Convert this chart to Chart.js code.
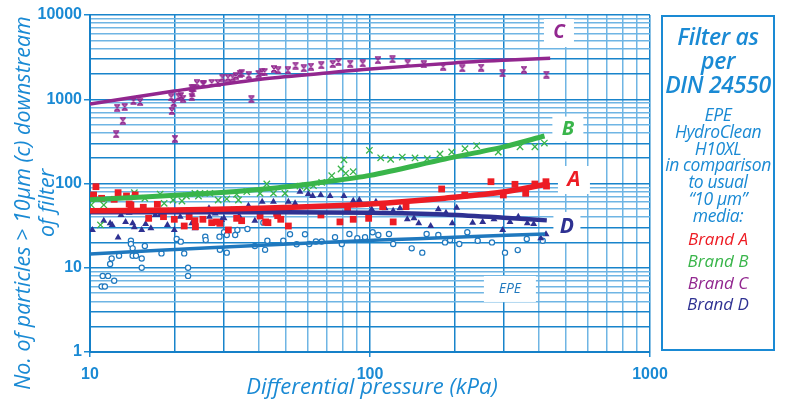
<!DOCTYPE html>
<html>
<head>
<meta charset="utf-8">
<script src="https://cdn.jsdelivr.net/npm/chart.js@4.4.0/dist/chart.umd.min.js"></script>
<style>
    html, body { margin: 0; padding: 0; background: #fff; }
    #wrap { position: relative; width: 789px; height: 405px; }
    #chart { position: absolute; left: 0; top: 0; }
    #panel {
        position: absolute; left: 661px; top: 15px; width: 110px; height: 332px;
        border: 2px solid #1a8ad4; color: #1a8ad4; text-align: center;
        font-family: 'Open Sans', 'Noto Sans', sans-serif; font-style: italic;
    }
    #panel div { position: absolute; left: 0; width: 110px; white-space: nowrap; }
    .head { top: 7px; font-size: 23px; line-height: 24px; font-weight: 600; letter-spacing: -0.3px; }
    .sub { top: 89px; font-size: 17.5px; line-height: 16.8px; letter-spacing: -0.4px; }
    .brands { top: 211px; font-size: 17px; line-height: 21.8px; }
</style>
</head>
<body>
<div id="wrap">
    <canvas id="chart" width="789" height="405"></canvas>
    <div id="panel">
        <div class="head">Filter as<br>per<br>DIN 24550</div>
        <div class="sub">EPE<br>HydroClean<br>H10XL<br>in comparison<br>to usual<br>“10 µm”<br>media:</div>
        <div class="brands">
            <span style="color:#ed1c24">Brand A</span><br>
            <span style="color:#39b54a">Brand B</span><br>
            <span style="color:#92278f">Brand C</span><br>
            <span style="color:#2e3192">Brand D</span>
        </div>
    </div>
</div>
<script>
// axis tick labels
const xTickLabels = [10, 100, 1000];
const yTickLabels = [1, 10, 100, 1000, 10000];

// Brand A - measured points (red squares)
const brandAPressure = [10.0, 10.3, 10.5, 11.0, 12.2, 12.6, 13.5, 13.8, 14.0, 14.5, 15.5, 16.2, 17.4, 18.3, 20.0, 21.7, 22.6, 23.7, 23.8, 25.3, 27.2, 28.3, 29.1, 31.2, 33.4, 34.8, 40.5, 42.4, 43.2, 46.4, 46.8, 48.0, 51.1, 66.8, 78.1, 83.2, 87.1, 98.9, 111, 121, 134.5, 180.3, 218, 270.4, 299.3, 329.4, 359.7, 388, 425, 427];
const brandACount = [66.7, 73.1, 91.7, 66.7, 64.9, 77.8, 71.1, 57.1, 55.6, 73.1, 52.2, 38.6, 56.6, 40.4, 37.6, 31.3, 40.4, 36.2, 30.7, 37.6, 34.3, 35, 33.7, 28.1, 38.6, 36.2, 41.1, 35, 34.3, 44.3, 41.5, 37.6, 31.3, 42.3, 35, 50.8, 37.6, 38.6, 53.1, 35, 53.1, 86.1, 73, 105, 73.1, 97.8, 76.5, 98.6, 105, 93.3];
const brandAFitPressure = [10, 20, 40, 70, 100, 185, 290, 428];
const brandAFit = [47.5, 48.5, 51, 54, 57, 67, 78, 98];

// Brand B - measured points (green crosses)
const brandBPressure = [10.1, 11.2, 10.9, 14.4, 15.7, 17.8, 18.4, 19.8, 21.3, 22.1, 23.7, 24.4, 24.7, 26.8, 28.7, 30.8, 33.4, 33.9, 36.3, 40.5, 42.8, 45.2, 49.7, 56.2, 59.4, 62.8, 67.2, 73, 78.8, 80.7, 81.9, 87.1, 99.5, 109.2, 118.5, 130.4, 144.8, 160.2, 177.8, 195.8, 218.4, 240.4, 287, 343.4, 388, 419.5];
const brandBCount = [55.6, 55.6, 32.2, 77.8, 66.7, 75, 58.2, 63.7, 62, 71, 76.4, 71, 76.4, 76.4, 63.7, 65.5, 74.5, 63.7, 80, 76.4, 98.6, 76.4, 76.4, 93.3, 89, 94.2, 103, 123.7, 148.6, 191, 132, 138, 248, 202, 194, 206, 201, 197, 224, 236.6, 259, 281, 236.6, 273, 273, 302];
const brandBFitPressure = [10, 26, 45, 70, 100, 185, 300, 420];
const brandBFit = [64, 76, 88, 105, 125, 195, 272, 366];

// Brand C - measured points (purple)
const brandCPressure = [12.4, 12.5, 13.1, 13.3, 14.3, 15.1, 19.5, 19.6, 19.9, 20.1, 20.7, 21.1, 21.5, 23.1, 23.1, 23.2, 23.4, 24.1, 25.3, 25.5, 27.2, 28.6, 29.7, 31.1, 32.3, 33.2, 34.3, 34.8, 36.9, 37.7, 40.0, 41.1, 42.0, 45.4, 47.0, 50.9, 54.2, 58.0, 61.5, 67.0, 73.6, 77.1, 85.0, 94.2, 106.7, 120.3, 136.3, 155.6, 182.5, 213.6, 249.4, 297.4, 354.8, 426.6];
const brandCCount = [384, 794, 556, 809, 953, 928, 1055, 726, 903, 340, 1072, 1094, 1016, 1349, 1072, 1178, 1349, 1545, 1503, 1503, 1560, 1560, 1803, 1803, 1803, 1888, 2013, 2030, 1925, 1000, 1995, 2106, 2106, 2287, 2203, 2203, 2506, 2330, 2438, 2529, 2620, 2770, 2642, 2670, 2900, 2979, 2670, 2600, 2438, 2330, 2371, 2032, 2244, 1959];
const brandCFitPressure = [10, 20, 40, 70, 100, 200, 300, 440];
const brandCFit = [880, 1250, 1720, 2050, 2280, 2700, 2900, 3060];

// Brand D - measured points (dark blue triangles)
const brandDPressure = [10.2, 11.2, 11.8, 12.0, 12.6, 12.9, 13.4, 13.8, 14.2, 14.4, 15.3, 15.8, 16.5, 17.1, 17.8, 18.9, 19.0, 20.0, 21.0, 23.1, 23.7, 25.0, 26.6, 26.7, 28.0, 29.5, 30.1, 32.0, 34.1, 36.8, 38.8, 41.2, 45.2, 51.1, 54, 56.2, 60.2, 62.4, 66.7, 72, 80.7, 87.1, 91.6, 101.4, 105, 113.2, 121, 128, 135.9, 143.6, 149.3, 164.7, 175.4, 186.8, 196.7, 204, 232.6, 252.6, 277.2, 297.8, 316.2, 338.5, 364.6, 384.3, 407.3, 425.2];
const brandDCount = [28.1, 36.2, 33.7, 32.2, 22.8, 42.3, 35, 45, 33.7, 30.2, 28.1, 33, 29.4, 42.3, 42.3, 32.2, 47, 28.1, 40.4, 33.7, 29.4, 46, 50.8, 40.4, 44, 36.9, 38.6, 48, 41.1, 54.6, 36.2, 60.8, 60.8, 60.8, 58.2, 80, 75, 71.1, 73.1, 71.1, 71.1, 62.5, 63.7, 49.4, 60.8, 50.8, 47.5, 50.8, 37.6, 38.6, 33.7, 31.3, 49.4, 45, 33.7, 51.6, 34.3, 35, 37.6, 28.1, 35, 40.4, 33.7, 33, 22.4, 25];
const brandDFitPressure = [10, 50, 100, 185, 300, 428];
const brandDFit = [45.5, 45.5, 45, 43, 39.3, 36.5];

// EPE HydroClean H10XL - measured points (open circles)
const epePressure = [11.1, 11.6, 11.0, 11.3, 12.2, 11.8, 11.95, 12.7, 14.0, 14.0, 14.2, 14.2, 14.6, 15.3, 15.3, 15.7, 18.0, 20.4, 21.1, 21.7, 22.4, 22.4, 25.8, 25.9, 29.0, 29.1, 30.1, 30.8, 30.8, 33.0, 33.6, 36.5, 38.8, 41.6, 42.2, 43, 49, 51.8, 54.7, 58.6, 60.7, 64.1, 67.2, 75, 79.3, 84.4, 90.1, 96, 102.2, 107.1, 116.9, 121, 140.9, 153.7, 159.3, 175.4, 185.3, 193.1, 208.4, 222.6, 242.5, 272.7, 303.5, 337, 363, 413.8];
const epeCount = [8.0, 8.0, 6.0, 6.0, 7.0, 11.1, 12.9, 13.9, 20.9, 19.1, 17.0, 13.9, 13.9, 12.9, 10.0, 18.1, 14.8, 21.9, 20.4, 14.8, 10.0, 8.0, 23.4, 21.3, 23.4, 16.3, 26.4, 24.5, 15.1, 24.5, 28.1, 28.8, 18.1, 34.3, 16.3, 20.9, 20.9, 25, 19.0, 25, 19.1, 20.5, 20.5, 23, 19.1, 25.2, 22.4, 23, 26.4, 24.5, 25.2, 19.1, 17.0, 15.1, 25.2, 24.5, 20.0, 21.3, 19.1, 26.4, 20.9, 20.0, 15.1, 16.2, 21.9, 20.9];
const epeFitPressure = [10, 31.6, 108, 200, 422];
const epeFit = [14.6, 17.8, 21.3, 23, 25.2];

// curve labels (text and anchor in data units)
const curveLabelText = ['C', 'B', 'A', 'D', 'EPE'];
const curveLabelPressure = [473, 509, 535, 505, 316];
const curveLabelCount = [6110, 443, 110, 30.5, 5.6];

const BLUE = '#1a8ad4';
const colors = { A: '#ed1c24', B: '#39b54a', C: '#92278f', D: '#2e3192', EPE: '#1f78be' };

function toPoints(xs, ys) {
    return xs.map((x, i) => ({ x: x, y: ys[i] }));
}

// log grid values 1..9 x 10^n
function logGrid(min, max) {
    const out = [];
    for (let e = Math.log10(min); e < Math.log10(max); e++) {
        for (let s = 1; s < 10; s++) out.push({ value: s * Math.pow(10, e) });
    }
    out.push({ value: max });
    return out;
}

function gridColor(ctx) {
    if (!ctx.tick) return BLUE;
    const v = ctx.tick.value;
    const s = Math.round(v / Math.pow(10, Math.floor(Math.log10(v) + 1e-9)));
    return (s === 1 || s === 2 || s === 3) ? '#1984cb' : '#6fb5e4';
}

// Brand C marker: an X with bars on top and bottom
function makeCMarker(color) {
    const c = document.createElement('canvas');
    c.width = 8; c.height = 8;
    const g = c.getContext('2d');
    g.strokeStyle = color;
    g.lineWidth = 1.4;
    g.beginPath();
    g.moveTo(1, 1); g.lineTo(7, 1);
    g.moveTo(1, 7); g.lineTo(7, 7);
    g.moveTo(2, 1.5); g.lineTo(6, 6.5);
    g.moveTo(6, 1.5); g.lineTo(2, 6.5);
    g.stroke();
    return c;
}

const fitLine = (data, color, width) => ({
    type: 'line', data: data, borderColor: color, borderWidth: width,
    pointRadius: 0, tension: 0.3, fill: false
});

const curveLabels = {
    id: 'curveLabels',
    beforeDatasetsDraw(chart) {
        const { ctx, scales: { x, y } } = chart;
        const style = {
            C: { w: 30, h: 28, font: 'italic bold 19px "Open Sans"', color: colors.C },
            B: { w: 31, h: 25, font: 'italic bold 20px "Open Sans"', color: colors.B },
            A: { w: 32, h: 28, font: 'italic bold 21px "Open Sans"', color: colors.A },
            D: { w: 27, h: 30, font: 'italic bold 21px "Open Sans"', color: colors.D },
            EPE: { w: 52, h: 26, font: 'italic 14px "Open Sans"', color: colors.EPE }
        };
        ctx.save();
        curveLabelText.forEach((t, i) => {
            const s = style[t];
            const px = x.getPixelForValue(curveLabelPressure[i]);
            const py = y.getPixelForValue(curveLabelCount[i]);
            ctx.fillStyle = '#fff';
            ctx.fillRect(px - s.w / 2, py - s.h / 2, s.w, s.h);
            ctx.font = s.font;
            ctx.fillStyle = s.color;
            ctx.textAlign = 'center';
            ctx.textBaseline = 'middle';
            ctx.fillText(t, px, py);
        });
        ctx.restore();
    }
};

const axisTitles = {
    id: 'axisTitles',
    afterDraw(chart) {
        const ctx = chart.ctx;
        ctx.save();
        ctx.fillStyle = BLUE;
        ctx.font = 'italic 22px "Open Sans"';
        ctx.textAlign = 'center';
        ctx.textBaseline = 'middle';
        ctx.fillText('Differential pressure (kPa)', 372, 388);
        ctx.font = 'italic 21.5px "Open Sans"';
        ctx.translate(0, 203);
        ctx.rotate(-Math.PI / 2);
        ctx.fillText('No. of particles > 10µm (c) downstream', 0, 24);
        ctx.fillText('of filter', 0, 48);
        ctx.restore();
    }
};

document.addEventListener('DOMContentLoaded', function() {
    const ctx = document.getElementById('chart').getContext('2d');
    const tickFont = { family: "'Liberation Sans Narrow', 'Liberation Sans', Arial, sans-serif", size: 16, weight: 'bold' };

    new Chart(ctx, {
        type: 'scatter',
        data: {
            datasets: [
                fitLine(toPoints(brandAFitPressure, brandAFit), colors.A, 5.5),
                fitLine(toPoints(brandDFitPressure, brandDFit), colors.D, 4.5),
                fitLine(toPoints(brandBFitPressure, brandBFit), colors.B, 5),
                fitLine(toPoints(epeFitPressure, epeFit), colors.EPE, 3.5),
                fitLine(toPoints(brandCFitPressure, brandCFit), colors.C, 3.5),
                {
                    label: 'Brand A', data: toPoints(brandAPressure, brandACount),
                    pointStyle: 'rect', pointRadius: 4.8, backgroundColor: colors.A, borderColor: colors.A, borderWidth: 0
                },
                {
                    label: 'Brand B', data: toPoints(brandBPressure, brandBCount),
                    pointStyle: 'crossRot', pointRadius: 4.5, borderColor: colors.B, borderWidth: 1.3
                },
                {
                    label: 'Brand C', data: toPoints(brandCPressure, brandCCount),
                    pointStyle: makeCMarker(colors.C), pointRadius: 4
                },
                {
                    label: 'Brand D', data: toPoints(brandDPressure, brandDCount),
                    pointStyle: 'triangle', pointRadius: 4, backgroundColor: colors.D, borderColor: colors.D, borderWidth: 0
                },
                {
                    label: 'EPE', data: toPoints(epePressure, epeCount),
                    pointStyle: 'circle', pointRadius: 2.6, backgroundColor: '#fff', borderColor: colors.EPE, borderWidth: 1.2
                }
            ]
        },
        options: {
            responsive: false,
            animation: false,
            layout: { padding: { left: 0, right: 139, top: 15, bottom: 0 } },
            plugins: {
                legend: { display: false },
                tooltip: { enabled: false }
            },
            scales: {
                x: {
                    type: 'logarithmic', min: 10, max: 1000,
                    afterBuildTicks: s => { s.ticks = logGrid(10, 1000); },
                    afterFit: s => { s.height = 53; },
                    grid: {
                        color: gridColor, lineWidth: 1.5, tickLength: 5,
                        tickColor: c => (c.tick && xTickLabels.includes(c.tick.value)) ? BLUE : 'rgba(0,0,0,0)'
                    },
                    border: { color: '#1580c8', width: 2 },
                    ticks: {
                        autoSkip: false, maxRotation: 0, padding: 8, color: BLUE, font: tickFont,
                        callback: v => xTickLabels.includes(v) ? String(v) : ''
                    }
                },
                y: {
                    type: 'logarithmic', min: 1, max: 10000,
                    afterBuildTicks: s => { s.ticks = logGrid(1, 10000); },
                    afterFit: s => { s.width = 90; },
                    grid: {
                        color: gridColor, lineWidth: 1.5, tickLength: 6,
                        tickColor: c => (c.tick && yTickLabels.includes(c.tick.value)) ? BLUE : 'rgba(0,0,0,0)'
                    },
                    border: { color: '#1580c8', width: 2 },
                    ticks: {
                        autoSkip: false, padding: 2, color: BLUE, font: tickFont,
                        callback: v => yTickLabels.includes(v) ? String(v) : ''
                    }
                }
            }
        },
        plugins: [curveLabels, axisTitles]
    });
});
</script>
</body>
</html>
